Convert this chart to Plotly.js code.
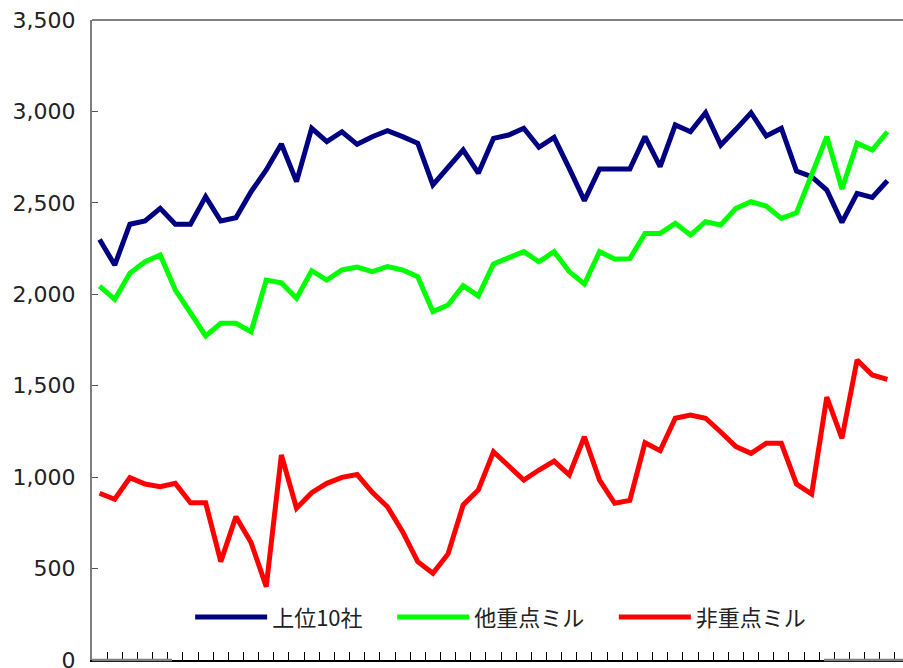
<!DOCTYPE html>
<html>
<head>
<meta charset="utf-8">
<script src="https://cdn.plot.ly/plotly-3.0.1.min.js"></script>
<style>html,body{margin:0;padding:0;background:#fff;}#chart{width:903px;height:668px;}</style>
</head>
<body>
<div id="chart"></div>
<script>
// 53 periods (labels not shown in the original)
const periods = ["1","2","3","4","5","6","7","8","9","10","11","12","13","14","15","16","17","18","19","20",
  "21","22","23","24","25","26","27","28","29","30","31","32","33","34","35","36","37","38","39","40",
  "41","42","43","44","45","46","47","48","49","50","51","52","53"];

const seriesNames = ["上位10社", "他重点ミル", "非重点ミル"];

const top10 = [2300, 2160, 2383, 2401, 2470, 2383, 2383, 2534, 2401, 2419,
  2561, 2680, 2822, 2616, 2908, 2835, 2889, 2820, 2862, 2895,
  2862, 2826, 2598, 2698, 2789, 2662, 2853, 2871, 2908, 2804,
  2858, 2689, 2512, 2685, 2685, 2685, 2862, 2698, 2926, 2889,
  2993, 2816, 2902, 2993, 2866, 2908, 2674, 2643, 2570, 2393,
  2552, 2530, 2621];

const otherKey = [2045, 1972, 2115, 2178, 2215, 2023, 1899, 1772, 1841, 1841,
  1795, 2078, 2063, 1978, 2129, 2078, 2133, 2149, 2124, 2151,
  2133, 2096, 1905, 1941, 2047, 1991, 2166, 2197, 2233, 2178,
  2233, 2124, 2056, 2233, 2193, 2195, 2333, 2333, 2388, 2324,
  2397, 2379, 2470, 2506, 2483, 2415, 2446, 2654, 2862, 2576,
  2826, 2789, 2889];

const nonKey = [912, 879, 997, 962, 948, 966, 860, 860, 538, 784,
  642, 401, 1121, 830, 915, 966, 999, 1014, 917, 838,
  702, 538, 474, 580, 848, 930, 1139, 1061, 984, 1039,
  1088, 1012, 1221, 984, 857, 873, 1188, 1145, 1322, 1340,
  1322, 1247, 1167, 1130, 1185, 1185, 962, 908, 1437, 1212,
  1641, 1559, 1535];

const colors = ["#000080", "#00ff00", "#ff0000"];
const values = [top10, otherKey, nonKey];
const pad = "\u00a0\u00a0\u00a0\u00a0\u00a0";

const traces = values.map((v, i) => ({
  type: "scatter",
  mode: "lines",
  name: seriesNames[i] + (i < values.length - 1 ? pad : ""),
  x: periods,
  y: v,
  line: {color: colors[i], width: 5},
  hoverinfo: "skip"
}));

const layout = {
  width: 903,
  height: 668,
  margin: {l: 92, r: 0, t: 20, b: 8},
  paper_bgcolor: "#ffffff",
  plot_bgcolor: "#ffffff",
  showlegend: true,
  legend: {
    orientation: "h",
    x: 0.121, xanchor: "left",
    y: 0.067, yanchor: "middle",
    bgcolor: "rgba(0,0,0,0)",
    font: {family: "Noto Sans CJK JP, Noto Sans, sans-serif", size: 22, color: "#222"},
    itemwidth: 72,
    traceorder: "normal"
  },
  xaxis: {
    type: "category",
    range: [-0.5, 53.03],
    showgrid: false,
    zeroline: false,
    showticklabels: false,
    tickson: "boundaries",
    ticks: "inside",
    ticklen: 8,
    tickwidth: 1,
    tickcolor: "#000",
    showline: true,
    linecolor: "#000",
    linewidth: 1.5,
    fixedrange: true
  },
  yaxis: {
    range: [0, 3500],
    dtick: 500,
    tick0: 0,
    tickformat: ",d",
    showgrid: false,
    zeroline: false,
    ticks: "inside",
    ticklen: 6,
    tickwidth: 1,
    tickcolor: "#555",
    showline: true,
    linecolor: "#7f7f7f",
    linewidth: 2,
    ticklabelstandoff: 10,
    ticklabeloverflow: "allow",
    tickfont: {family: "DejaVu Sans, Verdana, sans-serif", size: 22, color: "#222"},
    fixedrange: true
  },
  shapes: [
    {type: "line", xref: "paper", yref: "paper", x0: 0, x1: 1.02, y0: 1, y1: 1,
     line: {color: "#808080", width: 2}},
    {type: "line", xref: "paper", yref: "paper", x0: 0, x1: 0.0986, y0: 0, y1: 0,
     line: {color: "#808080", width: 2.5}},
    {type: "line", xref: "paper", yref: "paper", x0: 0.9026, x1: 1.02, y0: 0, y1: 0,
     line: {color: "#808080", width: 2.5}}
  ]
};

Plotly.newPlot("chart", traces, layout, {displayModeBar: false, staticPlot: true});
</script>
</body>
</html>
